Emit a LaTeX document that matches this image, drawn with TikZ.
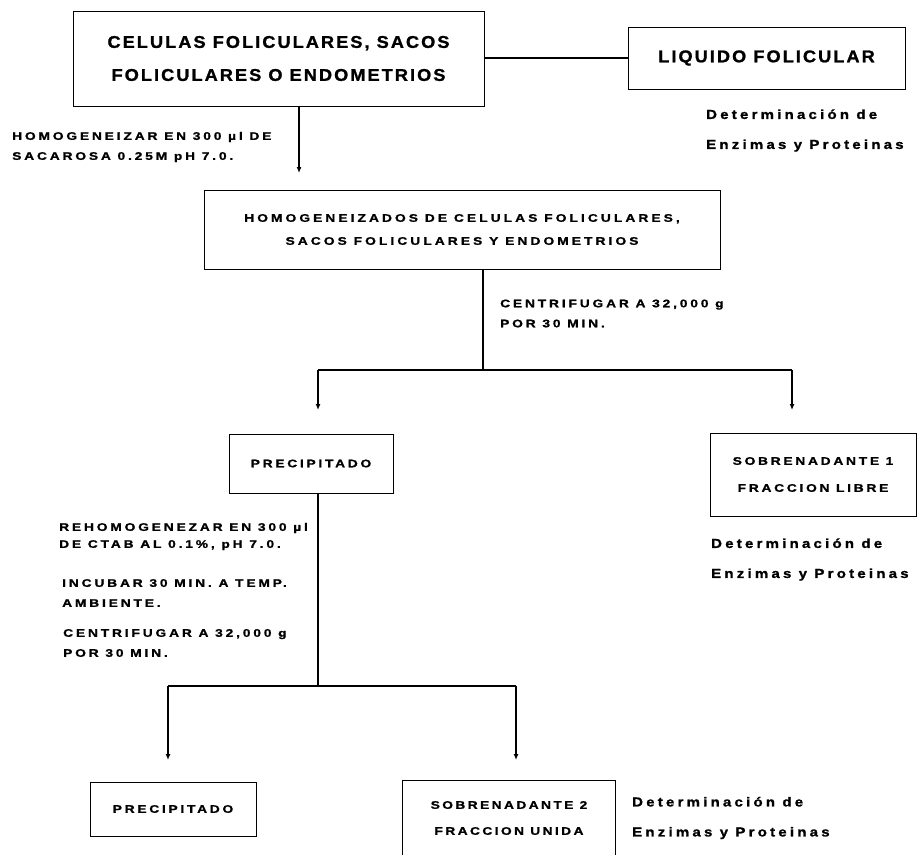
\documentclass[tikz,border=0pt]{standalone}
\usepackage{fontspec}
\setmainfont{Liberation Sans}
\usetikzlibrary{arrows.meta,positioning}

\begin{document}
\begin{tikzpicture}[x=1pt, y=-1pt,
    box/.style={draw, line width=1pt, inner sep=0pt, align=center},
    ln/.style={line width=1.1pt},
    arr/.style={line width=2pt, -{Latex[length=6pt,width=5pt]}},
    big/.style={font={\fontsize{17}{33}\selectfont\bfseries
      \addfontfeatures{FakeStretch=1.07, FakeBold=1.2, LetterSpace=12}}},
    mid/.style={font={\fontsize{11}{23}\selectfont\bfseries
      \addfontfeatures{FakeStretch=1.25, FakeBold=1.2, LetterSpace=28}}},
    sm/.style={font={\fontsize{11}{27}\selectfont\bfseries
      \addfontfeatures{FakeStretch=1.25, FakeBold=1.2, LetterSpace=25}}},
    note/.style={align=left, anchor=west, inner sep=0pt,
      font={\fontsize{11}{20}\selectfont\bfseries
      \addfontfeatures{FakeStretch=1.25, FakeBold=1.2, LetterSpace=26}}},
    det/.style={align=left, anchor=west, inner sep=0pt,
      font={\fontsize{13}{30}\selectfont\bfseries
      \addfontfeatures{FakeStretch=1.15, FakeBold=1.2, LetterSpace=25}}}]

    \useasboundingbox (0,0) rectangle (920,855);

    % first row
    \node[box, big, minimum width=411pt, minimum height=95pt] (cel) at (278.5,58.5)
      {CELULAS FOLICULARES, SACOS\\FOLICULARES O ENDOMETRIOS};
    \node[box, big, minimum width=277pt, minimum height=62pt] (liq) at (766.5,58)
      {LIQUIDO FOLICULAR};
    \node[det] (det1) at (706,130.5) {Determinación de\\Enzimas y Proteinas};
    \draw[ln] (liq.west) -- (liq.west -| cel.east);

    \node[note] (n1) at (12,147) {HOMOGENEIZAR EN 300 µl DE\\SACAROSA 0.25M pH 7.0.};
    \coordinate (a1) at (299,173);
    \draw[arr] (cel.south -| a1) -- (a1);

    % homogenate
    \node[box, mid, minimum width=516pt, minimum height=79pt] (hom) at (462,229.5)
      {HOMOGENEIZADOS DE CELULAS FOLICULARES,\\SACOS FOLICULARES Y ENDOMETRIOS};
    \node[note] (n2) at (500,313.5) {CENTRIFUGAR A 32,000 g\\POR 30 MIN.};

    \coordinate (j1) at (483,370);
    \coordinate (e1) at (318,410);
    \coordinate (e2) at (792,410);
    \draw[ln] (hom.south -| j1) -- (j1);
    \draw[ln] (e1 |- j1) -- (e2 |- j1);
    \draw[arr] (e1 |- j1) -- (e1);
    \draw[arr] (e2 |- j1) -- (e2);

    % first fractionation
    \node[box, sm, minimum width=164pt, minimum height=59pt] (pre1) at (311,463.5) {PRECIPITADO};
    \node[box, sm, minimum width=206pt, minimum height=83pt] (sob1) at (813,474.5)
      {SOBRENADANTE 1\\FRACCION LIBRE};
    \node[det] (det2) at (711,559.5) {Determinación de\\Enzimas y Proteinas};

    \node[note] (n3) at (59,536.5) {REHOMOGENEZAR EN 300 µl\\[-3pt]DE CTAB AL 0.1\%, pH 7.0.};
    \node[note] (n4) at (62,593) {INCUBAR 30 MIN. A TEMP.\\AMBIENTE.};
    \node[note] (n5) at (63,643) {CENTRIFUGAR A 32,000 g\\POR 30 MIN.};

    \coordinate (j2) at (318,686);
    \coordinate (e3) at (168,760);
    \coordinate (e4) at (516,760);
    \draw[ln] (pre1.south -| j2) -- (j2);
    \draw[ln] (e3 |- j2) -- (e4 |- j2);
    \draw[arr] (e3 |- j2) -- (e3);
    \draw[arr] (e4 |- j2) -- (e4);

    % second fractionation
    \node[box, sm, minimum width=166pt, minimum height=54pt] (pre2) at (173,809) {PRECIPITADO};
    \node[sm, align=center, inner sep=0pt, minimum width=212pt, minimum height=74pt,
      font={\fontsize{11}{26}\selectfont\bfseries
      \addfontfeatures{FakeStretch=1.25, FakeBold=1.2, LetterSpace=22}}] (sob2) at (509,818)
      {SOBRENADANTE 2\\FRACCION UNIDA};
    \draw[ln] (sob2.south west) -- (sob2.north west) -- (sob2.north east) -- (sob2.south east);
    \node[det] (det3) at (632,818) {Determinación de\\Enzimas y Proteinas};
\end{tikzpicture}
\end{document}
